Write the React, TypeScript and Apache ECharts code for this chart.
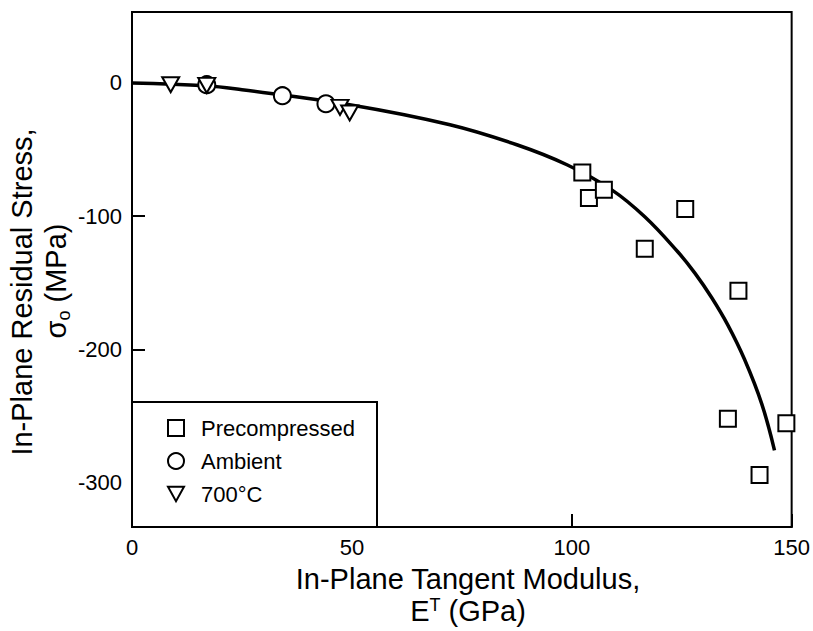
import React, { useEffect, useRef } from "react";
import * as echarts from "echarts";

const precompressedX = [102.4, 103.9, 107.3, 125.8, 116.6, 137.9, 135.5, 148.8, 142.7];
const precompressedY = [-67.3, -86.5, -80.2, -94.7, -124.5, -156, -251.8, -255.2, -294];
const ambientX = [17, 34.2, 44.1];
const ambientY = [-1.5, -9.75, -15.75];
const hotX = [8.8, 17, 47.3, 49.5];
const hotY = [-1.5, -2, -18.5, -22.7];
const fitX = [0, 16.8, 25, 49.5, 72.3, 87.5, 98.9, 109.1, 116.6, 124.1, 128, 131.8, 135.5, 139.3, 143.2, 146.1];
const fitY = [-0.2, -2.25, -5.25, -16.5, -31.5, -46.5, -61.5, -80.3, -100.5, -126.7, -142.7, -161, -181.7, -207.5, -240.7, -275.5];
const xTicks = [0, 50, 100, 150];
const yTicks = [0, -100, -200, -300];

const zip = (a: number[], b: number[]) => a.map((v, i) => [v, b[i]]);
const FONT = "Liberation Sans";
const TRI = "path://M0,0 L20,0 L10,18 Z";

export default function App() {
  const ref = useRef<HTMLDivElement>(null);
  useEffect(() => {
    document.body.style.margin = "0";
    const chart = echarts.init(ref.current!, null, { renderer: "svg" });
    const markerStyle = { color: "#fff", borderColor: "#000", borderWidth: 2, opacity: 1 };
    chart.setOption({
      animation: false,
      backgroundColor: "#fff",
      grid: { left: 132, top: 12, width: 660, height: 515, show: true, borderColor: "#000", borderWidth: 2, backgroundColor: "transparent" },
      xAxis: {
        type: "value", min: 0, max: 150, interval: 50,
        axisLine: { onZero: false, lineStyle: { color: "#000", width: 2 } },
        axisTick: { inside: true, length: 13, lineStyle: { color: "#000", width: 2 } },
        axisLabel: { color: "#000", fontSize: 22, fontFamily: FONT, margin: 9, customValues: xTicks },
        splitLine: { show: false },
      },
      yAxis: {
        type: "value", min: -333, max: 53,
        axisLine: { onZero: false, lineStyle: { color: "#000", width: 2 } },
        axisTick: { inside: true, length: 13, lineStyle: { color: "#000", width: 2 }, customValues: yTicks },
        axisLabel: { color: "#000", fontSize: 22, fontFamily: FONT, margin: 10, customValues: yTicks },
        splitLine: { show: false },
      },
      legend: {
        orient: "vertical", left: 167, top: 417, padding: 0, itemWidth: 16, itemHeight: 16, itemGap: 11, z: 60,
        textStyle: { color: "#000", fontSize: 22, fontFamily: FONT, padding: [0, 0, 0, 12] },
        data: ["Precompressed", "Ambient", "700°C"],
      },
      graphic: [
        { type: "rect", z: 50, shape: { x: 132, y: 402, width: 245, height: 125 }, style: { fill: "#fff", stroke: "#000", lineWidth: 2 } },
        {
          type: "text", x: 468, y: 579, style: { text: "In-Plane Tangent Modulus,", font: `29px "${FONT}"`, fill: "#000", align: "center", verticalAlign: "middle" },
        },
        {
          type: "text", x: 468, y: 611,
          style: {
            text: "E{sup|T} (GPa)", font: `29px "${FONT}"`, fill: "#000", align: "center", verticalAlign: "middle",
            rich: { sup: { fontSize: 18, fontFamily: FONT, verticalAlign: "top", lineHeight: 30 } },
          },
        },
        {
          type: "text", x: 22, y: 292, rotation: Math.PI / 2,
          style: { text: "In-Plane Residual Stress,", font: `29px "${FONT}"`, fill: "#000", align: "center", verticalAlign: "middle" },
        },
        {
          type: "text", x: 56, y: 281, rotation: Math.PI / 2,
          style: {
            text: "σ{sub|o} (MPa)", font: `29px "${FONT}"`, fill: "#000", align: "center", verticalAlign: "middle",
            rich: { sub: { fontSize: 18, fontFamily: FONT, verticalAlign: "bottom", lineHeight: 34 } },
          },
        },
      ],
      series: [
        { name: "fit", type: "line", data: zip(fitX, fitY), smooth: 0.4, showSymbol: false, symbol: "none", lineStyle: { color: "#000", width: 3.5 }, z: 1 },
        { name: "Precompressed", type: "scatter", data: zip(precompressedX, precompressedY), symbol: "rect", symbolSize: 16, itemStyle: markerStyle, z: 3 },
        { name: "Ambient", type: "scatter", data: zip(ambientX, ambientY), symbol: "circle", symbolSize: 17, itemStyle: markerStyle, z: 3 },
        { name: "700°C", type: "scatter", data: zip(hotX, hotY), symbol: TRI, symbolSize: [17, 15], itemStyle: markerStyle, z: 4 },
      ],
    });
    return () => chart.dispose();
  }, []);
  return <div ref={ref} style={{ width: 813, height: 631 }} />;
}
